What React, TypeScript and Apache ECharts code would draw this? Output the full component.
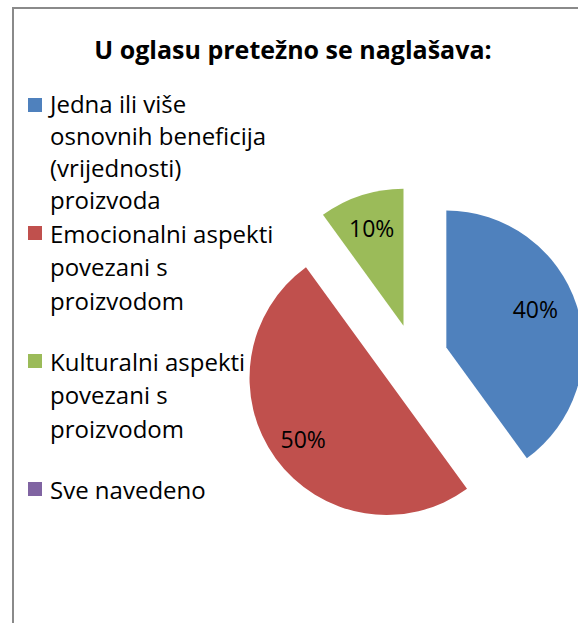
import React, { useEffect, useRef } from "react";
import * as echarts from "echarts";

const titleText = "U oglasu pretežno se naglašava:";
const categories = [
  "Jedna ili više osnovnih beneficija (vrijednosti) proizvoda",
  "Emocionalni aspekti povezani s proizvodom",
  "Kulturalni aspekti povezani s proizvodom",
  "Sve navedeno",
];
const legendLines = [
  ["Jedna ili više", "osnovnih beneficija", "(vrijednosti)", "proizvoda"],
  ["Emocionalni aspekti", "povezani s", "proizvodom"],
  ["Kulturalni aspekti", "povezani s", "proizvodom"],
  ["Sve navedeno"],
];
const values = [40, 50, 10, 0];
const colors = ["#4F81BD", "#C0504D", "#9BBB59", "#8064A2"];

const FONT = "'Open Sans', 'Noto Sans', sans-serif";

export default function App() {
  const ref = useRef<HTMLDivElement>(null);
  useEffect(() => {
    if (!ref.current) return;
    const chart = echarts.init(ref.current, null, { renderer: "svg" });
    const total = values.reduce((a, b) => a + b, 0);
    const legendGraphics: any[] = [];
    categories.forEach((c, i) => {
      const cy = 105 + i * 128;
      // first item has 4 lines and is slightly compressed so it does not collide with the next
      const step = i === 0 ? 32 : 33.6;
      const start = i === 0 ? cy - 2 : cy;
      legendGraphics.push({
        type: "rect",
        shape: { x: 28, y: cy - 7, width: 14, height: 14 },
        style: { fill: colors[i] },
      });
      legendLines[i].forEach((line, k) => {
        legendGraphics.push({
          type: "text",
          x: 50,
          y: start + k * step,
          style: {
            text: line,
            font: `24px ${FONT}`,
            lineHeight: 26,
            fill: "#000",
            verticalAlign: "middle",
            align: "left",
          },
        });
      });
    });
    const pieData = categories.map((c, i) => ({
      name: c,
      value: values[i],
      selected: true,
      itemStyle: { color: colors[i] },
    }));
    chart.setOption({
      animation: false,
      title: {
        text: titleText,
        left: 288,
        textAlign: "center",
        top: 31,
        textStyle: { fontFamily: FONT, fontWeight: "bold", fontSize: 25, color: "#000" },
      },
      graphic: [
        {
          type: "rect",
          shape: { x: 13, y: 8, width: 800, height: 800 },
          style: { fill: "none", stroke: "#8a8a8a", lineWidth: 2 },
          silent: true,
        },
        ...legendGraphics,
      ],
      series: [
        {
          type: "pie",
          center: [414, 358],
          radius: [0, 137],
          startAngle: 90,
          clockwise: true,
          selectedMode: "multiple",
          selectedOffset: 34,
          label: { show: false },
          labelLine: { show: false },
          emphasis: { disabled: true },
          data: pieData,
        },
        {
          type: "pie",
          center: [414, 358],
          radius: [63, 137],
          startAngle: 90,
          clockwise: true,
          selectedMode: "multiple",
          selectedOffset: 34,
          silent: true,
          label: {
            show: true,
            position: "inside",
            formatter: (p: any) => `${Math.round((p.value / total) * 100)}%`,
            fontFamily: FONT,
            fontSize: 23,
            color: "#000",
          },
          labelLayout: (params: any) => (params.dataIndex === 0 ? { dx: -9, dy: -7 } : {}),
          labelLine: { show: false },
          emphasis: { disabled: true },
          data: pieData.map((d, i) => ({
            ...d,
            itemStyle: { color: "rgba(0,0,0,0)" },
            label: { show: values[i] > 0 },
          })),
        },
      ],
    });
    return () => chart.dispose();
  }, []);
  return (
    <div
      ref={ref}
      style={{ position: "absolute", left: 0, top: 0, width: 578, height: 623, background: "#fff" }}
    />
  );
}
